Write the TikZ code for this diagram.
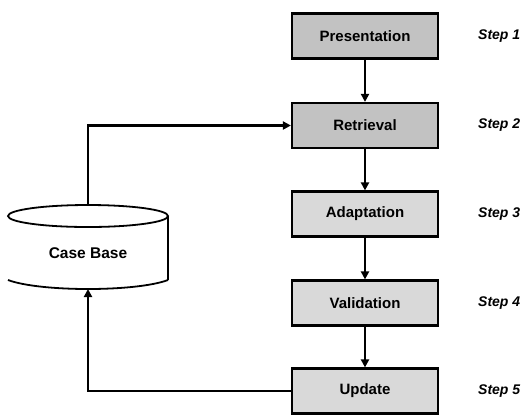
\documentclass[tikz,border=0pt]{standalone}
\usepackage{fontspec}
\setmainfont{Liberation Sans}
\usetikzlibrary{arrows.meta}
\begin{document}
\begin{tikzpicture}[x=1bp,y=-1bp,
  stage/.style={draw=black, line width=2.2bp, minimum width=146bp, minimum height=45bp,
    inner sep=0pt, font=\fontsize{15bp}{17bp}\selectfont\bfseries},
  dark/.style={stage, fill=black!24},
  light/.style={stage, fill=black!15},
  steplabel/.style={anchor=west, inner sep=0pt, font=\fontsize{14bp}{16bp}\selectfont\bfseries\itshape},
  flow/.style={line width=2.4bp, -{Triangle[length=8bp,width=8bp]}},
  wire/.style={line width=1.8bp}]
\useasboundingbox (0,0) rectangle (526,414);

% process stages
\node[dark]  (pres)  at (365,36)    {Presentation};
\node[dark]  (retr)  at (365,125.5) {Retrieval};
\node[light] (adap)  at (365,214)   {Adaptation};
\node[light] (vali)  at (365,303)   {Validation};
\node[light] (upd)   at (365,391)   {Update};

% step labels
\node[steplabel] (s1) at (478,36)    {Step 1};
\node[steplabel] (s2) at (478,125.5) {Step 2};
\node[steplabel] (s3) at (478,214)   {Step 3};
\node[steplabel] (s4) at (478,303)   {Step 4};
\node[steplabel] (s5) at (478,391)   {Step 5};

% case base cylinder (left side open)
\draw[wire] (88,216) ellipse [x radius=80, y radius=11];
\draw[wire] (168,216) -- (168,280);
\draw[wire] (8,280) .. controls (40,292) and (136,292) .. (168,280);
\node[font=\fontsize{15.5bp}{17bp}\selectfont\bfseries] (cb) at (88,253) {Case Base};
\coordinate (cbtop) at (88,205);
\coordinate (cbbot) at (88,289);

% main flow
\draw[flow] (pres) -- (retr);
\draw[flow] (retr) -- (adap);
\draw[flow] (adap) -- (vali);
\draw[flow] (vali) -- (upd);

% feedback through the case base
\draw[flow] (cbtop) |- (retr.west);
\draw[flow] (upd.west) -| (cbbot);
\end{tikzpicture}
\end{document}
